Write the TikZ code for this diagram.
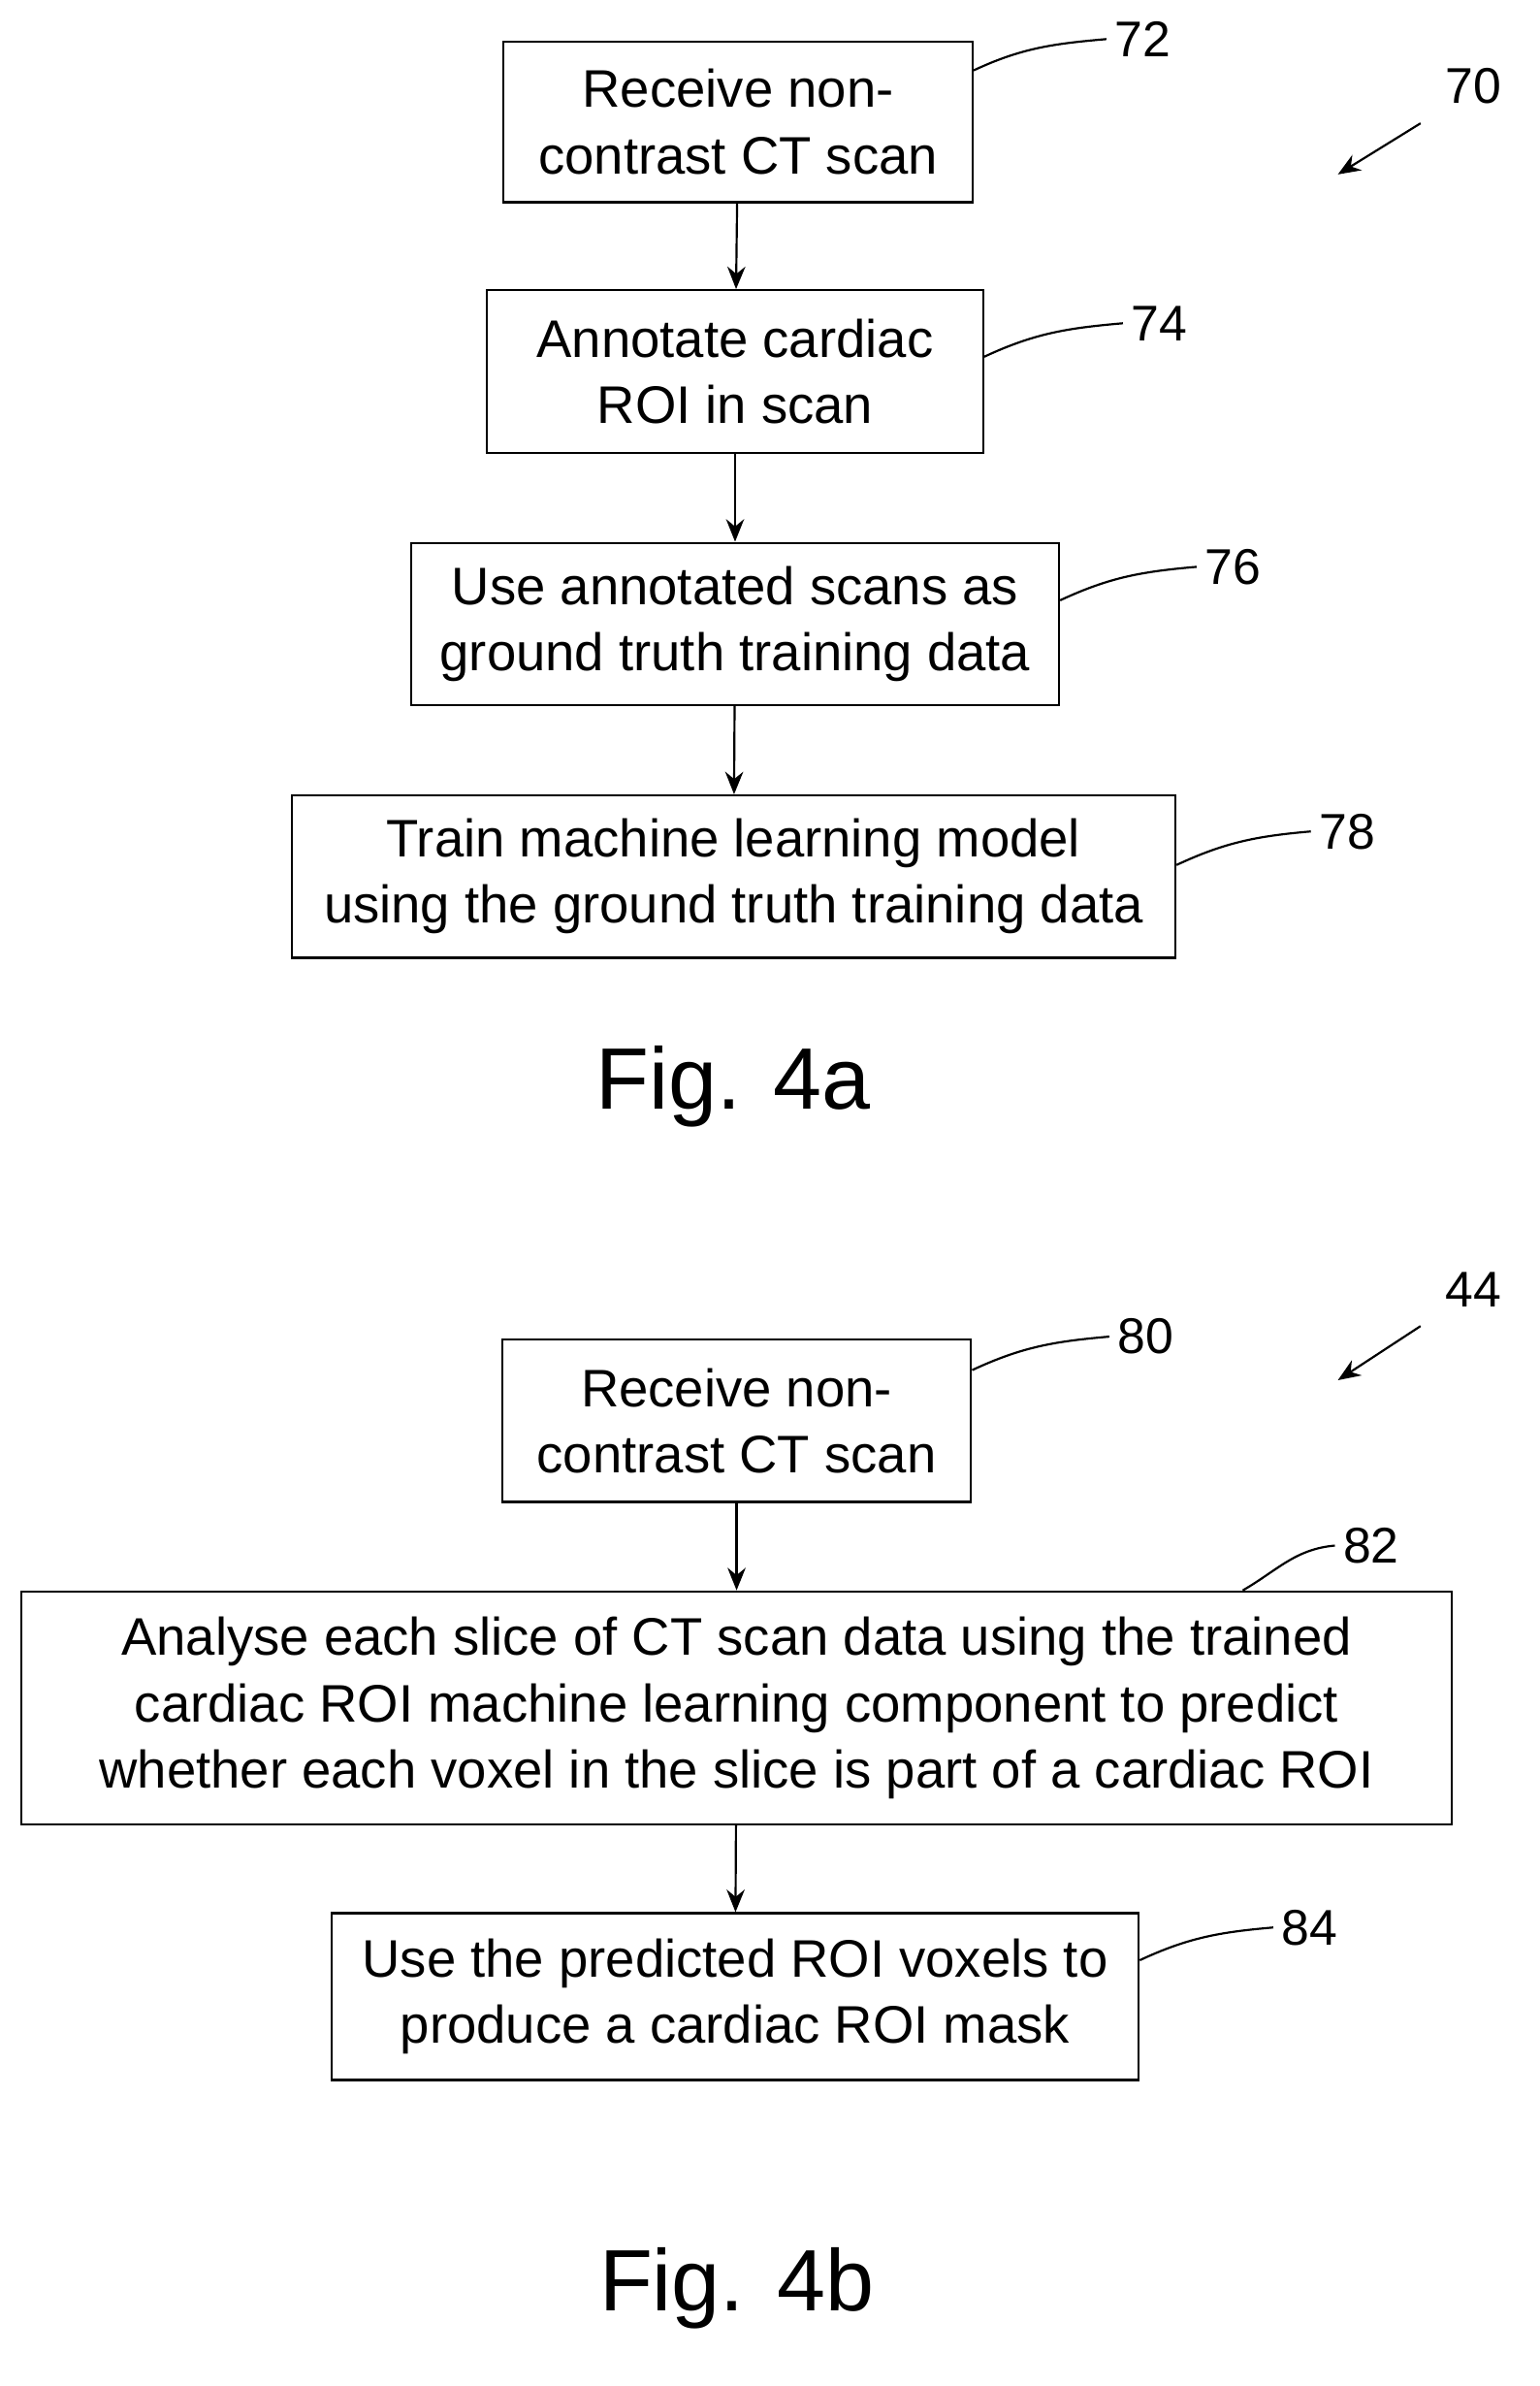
\documentclass[tikz,border=0pt]{standalone}
\usepackage{fontspec}
\setmainfont{Liberation Sans}
\usetikzlibrary{arrows.meta, positioning}

\begin{document}
\begin{tikzpicture}[
    x=0.02cm, y=-0.02cm,
    stepbox/.style={rectangle, draw=black, line width=0.8pt, align=center, font=\fontsize{20}{25}\selectfont, inner sep=0pt},
    arrow/.style={-{Stealth[length=3mm, width=2.4mm]}, line width=0.8pt},
    ref/.style={font=\fontsize{19}{21}\selectfont, inner sep=3pt},
    lead/.style={line width=0.8pt},
    figlabel/.style={font=\fontsize{33}{38}\selectfont},
]
\useasboundingbox (0,0) rectangle (1024,1587);

% Fig. 4a
\node[stepbox, minimum width=312*0.02cm, minimum height=107*0.02cm] (recv) at (491,81) {Receive non-\\contrast CT scan};
\node[stepbox, minimum width=330*0.02cm, minimum height=108*0.02cm] (annot) at (489,247) {Annotate cardiac\\ROI in scan};
\node[stepbox, minimum width=431*0.02cm, minimum height=108*0.02cm] (use) at (489,415) {Use annotated scans as\\ground truth training data};
\node[stepbox, minimum width=588*0.02cm, minimum height=108*0.02cm] (train) at (488,583) {Train machine learning model\\using the ground truth training data};

\draw[arrow] (recv) -- (annot);
\draw[arrow] (annot) -- (use);
\draw[arrow] (use) -- (train);

\node[ref, anchor=west] (l72) at (736,26) {72};
\node[ref, anchor=west] (l74) at (747,215) {74};
\node[ref, anchor=west] (l76) at (796,377) {76};
\node[ref, anchor=west] (l78) at (872,553) {78};
\draw[lead] ([yshift=-0.4cm]recv.north east) to[out=25,in=185] (l72.west);
\draw[lead] ([yshift=-0.9cm]annot.north east) to[out=25,in=185] (l74.west);
\draw[lead] ([yshift=-0.78cm]use.north east) to[out=25,in=185] (l76.west);
\draw[lead] ([yshift=-0.94cm]train.north east) to[out=25,in=185] (l78.west);

\node[ref] (l70) at (980,57) {70};
\coordinate (p70) at (945,82);
\coordinate (q70) at (890,116);
\draw[arrow] (p70) -- (q70);

\node[figlabel] (fig4a) at (488,723) {Fig. 4a};

% Fig. 4b
\node[stepbox, minimum width=312*0.02cm, minimum height=108*0.02cm] (recvb) at (490,945) {Receive non-\\contrast CT scan};
\node[stepbox, minimum width=952*0.02cm, minimum height=155*0.02cm] (analyse) at (490,1136) {Analyse each slice of CT scan data using the trained\\cardiac ROI machine learning component to predict\\whether each voxel in the slice is part of a cardiac ROI};
\node[stepbox, minimum width=537*0.02cm, minimum height=111*0.02cm] (mask) at (489,1328) {Use the predicted ROI voxels to\\produce a cardiac ROI mask};

\draw[arrow] (recvb) -- (analyse);
\draw[arrow] (analyse) -- (mask);

\node[ref, anchor=west] (l80) at (738,889) {80};
\node[ref, anchor=west] (l82) at (888,1028) {82};
\node[ref, anchor=west] (l84) at (847,1282) {84};
\draw[lead] ([yshift=-0.42cm]recvb.north east) to[out=25,in=185] (l80.west);
\draw[lead] ([xshift=-2.8cm]analyse.north east) to[out=30,in=185] (l82.west);
\draw[lead] ([yshift=-0.64cm]mask.north east) to[out=25,in=185] (l84.west);

\node[ref] (l44) at (980,858) {44};
\coordinate (p44) at (945,882);
\coordinate (q44) at (890,918);
\draw[arrow] (p44) -- (q44);

\node[figlabel] (fig4b) at (490,1522) {Fig. 4b};
\end{tikzpicture}
\end{document}
